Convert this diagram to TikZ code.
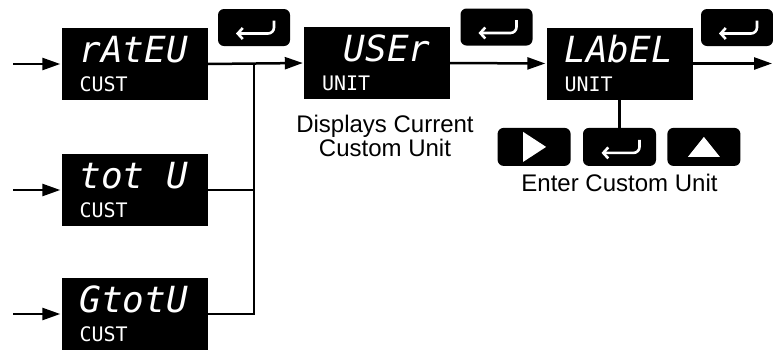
\documentclass[tikz,border=0pt]{standalone}
\usepackage{fontspec}
\setmainfont{Liberation Sans}
\newfontfamily\segfont{DejaVu Sans Mono}
\usetikzlibrary{positioning,arrows.meta}

\begin{document}
\begin{tikzpicture}[x=1pt,y=-1pt,node distance=12pt,
 lcd/.style={fill=black,minimum width=146pt,minimum height=72pt,inner sep=0pt},
 bigseg/.style={text=white,inner sep=0pt,anchor=base west,font=\segfont\itshape\fontsize{36}{36}\selectfont},
 smallseg/.style={text=white,inner sep=0pt,anchor=base west,font=\segfont\fontsize{20}{20}\selectfont},
 key/.style={fill=black,rounded corners=6pt,minimum width=72pt,minimum height=37pt,inner sep=0pt},
 flow/.style={-{Triangle[length=18pt,width=12pt]},line width=2.5pt,shorten >=1pt},
 wire/.style={line width=2.5pt},
 glyph/.style={draw=white,line width=2.6pt,rounded corners=6pt,-{Straight Barb[length=5pt,width=11pt]}},
 note/.style={inner sep=0pt,align=center,font=\fontsize{24}{21}\selectfont}]
\useasboundingbox (0,0) rectangle (773,349);
% displays
\node[lcd] (rate) at (134.5,64) {};
\node[lcd] (tot) at (134.5,190) {};
\node[lcd] (gtot) at (134.5,314) {};
\node[lcd] (user) at (377,63) {};
\node[lcd] (label) at (619.5,63.5) {};
\node[bigseg] (rate-t) at ([shift={(18,35)}]rate.north west) {rAtEU};
\node[smallseg] (rate-s) at ([shift={(18,64)}]rate.north west) {CUST};
\node[bigseg] (tot-t) at ([shift={(18,35)}]tot.north west) {tot U};
\node[smallseg] (tot-s) at ([shift={(18,64)}]tot.north west) {CUST};
\node[bigseg] (gtot-t) at ([shift={(18,35)}]gtot.north west) {GtotU};
\node[smallseg] (gtot-s) at ([shift={(18,64)}]gtot.north west) {CUST};
\node[bigseg] (user-t) at ([shift={(18,35)}]user.north west) {~USEr};
\node[smallseg] (user-s) at ([shift={(18,64)}]user.north west) {UNIT};
\node[bigseg] (label-t) at ([shift={(18,35)}]label.north west) {LAbEL};
\node[smallseg] (label-s) at ([shift={(18,64)}]label.north west) {UNIT};
% keys
\node[key] (enter1) at (254,27.5) {};
\node[key] (enter2) at (496.5,27) {};
\node[key] (enter3) at (737,27.5) {};
\node[key,minimum width=73pt,minimum height=38pt,below=28pt of label] (kEnter) {};
\node[key,minimum width=73pt,minimum height=38pt,left=of kEnter] (kRight) {};
\node[key,minimum width=73pt,minimum height=38pt,right=11pt of kEnter] (kUp) {};
\foreach \k in {enter1,enter2,enter3,kEnter}
  \draw[glyph] ([shift={(20,-7)}]\k.center) -- ++(0,13) -- ++(-38,0);
\fill[white] ([shift={(-11,-15)}]kRight.center) -- ([shift={(-11,15)}]kRight.center) -- ([shift={(12,0)}]kRight.center) -- cycle;
\fill[white] ([shift={(-16,10)}]kUp.center) -- ([shift={(16,10)}]kUp.center) -- ([shift={(0,-10)}]kUp.center) -- cycle;
% notes
\node[note,below=16pt of user,xshift=8pt] (note1) {Displays Current\\Custom Unit};
\node[note,below=8pt of kEnter] (note2) {Enter Custom Unit};
% connectors
\coordinate (in1) at (13,64);
\coordinate (in2) at (13,190);
\coordinate (in3) at (13,314);
\coordinate (join) at (254,64);
\coordinate (out) at (773,63.5);
\draw[flow] (in1) -- (rate.west);
\draw[flow] (in2) -- (tot.west);
\draw[flow] (in3) -- (gtot.west);
\draw[flow] (rate.east) -- (user.west);
\draw[wire] (tot.east) -- (tot.east -| join);
\draw[wire] (gtot.east) -| (join);
\draw[flow] (user.east) -- (label.west);
\draw[flow] (label.east) -- (out);
\draw[wire] (label.south -| kEnter.north) -- (kEnter.north);
\end{tikzpicture}
\end{document}
